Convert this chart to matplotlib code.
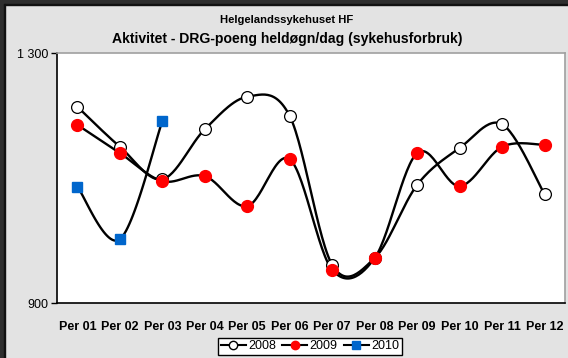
import matplotlib
matplotlib.use("Agg")
import matplotlib.pyplot as plt
import numpy as np
from matplotlib.patches import Rectangle

plt.rcParams['font.family'] = ['Liberation Sans', 'DejaVu Sans']

periods = ['Per 01', 'Per 02', 'Per 03', 'Per 04', 'Per 05', 'Per 06',
           'Per 07', 'Per 08', 'Per 09', 'Per 10', 'Per 11', 'Per 12']
v2008 = [1214, 1150, 1098, 1178, 1230, 1199, 961, 972, 1089, 1148, 1186, 1074]
v2009 = [1185, 1140, 1095, 1103, 1055, 1130, 953, 972, 1140, 1087, 1150, 1153]
v2010 = [1086, 1002, 1191]


def smooth(xs, ys, n=30):
    # bezier through points, control points like excel smoothed lines
    p = np.column_stack([xs, ys]).astype(float)
    out = [p[0]]
    for i in range(len(p) - 1):
        p0 = p[i - 1] if i > 0 else p[i]
        p3 = p[i + 2] if i + 2 < len(p) else p[i + 1]
        c1 = p[i] + (p[i + 1] - p0) / 6
        c2 = p[i + 1] - (p3 - p[i]) / 6
        t = np.linspace(0, 1, n)[1:, None]
        seg = ((1 - t) ** 3 * p[i] + 3 * (1 - t) ** 2 * t * c1
               + 3 * (1 - t) * t ** 2 * c2 + t ** 3 * p[i + 1])
        out.extend(seg)
    out = np.array(out)
    return out[:, 0], out[:, 1]


W, H = 568, 358
fig = plt.figure(figsize=(W / 100, H / 100), dpi=100)
fig.patch.set_facecolor('#e3e3e3')

# dark window frame left/top
fig.patches.append(Rectangle((0, 0), 4 / W, 1, transform=fig.transFigure, color='#2e2e2e', zorder=0))
fig.patches.append(Rectangle((0, 1 - 4 / H), 1, 4 / H, transform=fig.transFigure, color='#2e2e2e', zorder=0))
fig.patches.append(Rectangle((4 / W, 0), 1.2 / W, 1 - 4 / H, transform=fig.transFigure, color='#111111', zorder=0))
fig.patches.append(Rectangle((4 / W, 1 - 5.2 / H), 1, 1.2 / H, transform=fig.transFigure, color='#111111', zorder=0))

ax = fig.add_axes([57 / W, (H - 303) / H, (565 - 57) / W, (303 - 53) / H])
ax.set_facecolor('white')

x = np.arange(len(periods))

sx, sy = smooth(x, v2008)
ax.plot(sx, sy, color='black', lw=1.7, zorder=2)
ax.plot(x, v2008, ls='none', marker='o', ms=8.5, mfc='white', mec='black', mew=0.9, zorder=3)

sx, sy = smooth(x, v2009)
ax.plot(sx, sy, color='black', lw=1.7, zorder=2)
ax.plot(x, v2009, ls='none', marker='o', ms=8.5, mfc='#ff0000', mec='#ff0000', zorder=3)

x10 = x[:len(v2010)]
sx, sy = smooth(x10, v2010)
ax.plot(sx, sy, color='black', lw=1.7, zorder=2)
ax.plot(x10, v2010, ls='none', marker='s', ms=7.5, mfc='#0066cc', mec='#0066cc', zorder=3)

ax.set_xlim(-0.48, 11.48)
ax.set_ylim(900, 1300)
ax.set_yticks([900, 1300])
ax.set_yticklabels(['900', '1 300'], fontsize=9)
ax.set_xticks(x)
ax.set_xticklabels(periods, fontsize=9, fontweight='bold')
ax.tick_params(axis='x', length=0, pad=13)
ax.tick_params(axis='y', length=4, width=1, pad=2)

for s in ['top', 'right']:
    ax.spines[s].set_color('#a0a0a0')
    ax.spines[s].set_linewidth(1.2)
ax.spines['left'].set_color('black')
ax.spines['bottom'].set_color('black')
ax.spines['left'].set_linewidth(1.2)
ax.spines['bottom'].set_linewidth(1.2)

fig.text(287 / W, 1 - 20 / H, 'Helgelandssykehuset HF', ha='center', va='center',
         fontsize=8.1, fontweight='bold')
fig.text(287 / W, 1 - 39 / H, 'Aktivitet - DRG-poeng heldøgn/dag (sykehusforbruk)',
         ha='center', va='center', fontsize=10.1, fontweight='bold')

h1 = plt.Line2D([], [], color='black', lw=1.5, marker='o', ms=6, mfc='white', mec='black')
h2 = plt.Line2D([], [], color='black', lw=1.5, marker='o', ms=6, mfc='#ff0000', mec='#ff0000')
h3 = plt.Line2D([], [], color='black', lw=1.5, marker='s', ms=5.5, mfc='#0066cc', mec='#0066cc')
leg = fig.legend([h1, h2, h3], ['2008', '2009', '2010'], loc='center',
                 bbox_to_anchor=(310 / W, 1 - 346 / H), ncol=3, fontsize=9,
                 frameon=True, fancybox=False, edgecolor='black', framealpha=1,
                 handlelength=2.0, handletextpad=0.2, columnspacing=0.5,
                 borderpad=0.2, borderaxespad=0)
leg.get_frame().set_linewidth(1.0)

fig.savefig('out.png', dpi=100, facecolor=fig.get_facecolor())
